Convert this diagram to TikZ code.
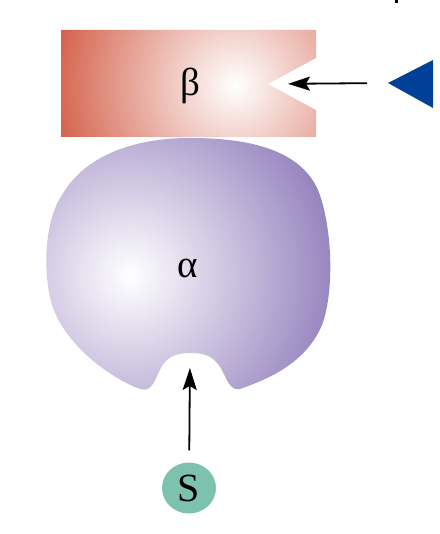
\documentclass[tikz,border=0pt]{standalone}
\usepackage{fontspec}
\setmainfont{Liberation Serif}
\usetikzlibrary{arrows.meta,shapes.geometric}
\definecolor{betared}{RGB}{212,96,74}
\definecolor{alphapurple}{RGB}{146,126,188}
\definecolor{signalblue}{RGB}{0,64,152}
\definecolor{substrategreen}{RGB}{125,194,172}
\tikzset{
  label text/.style={font=\fontsize{39}{39}\selectfont},
  arrow/.style={-{Stealth[length=22pt,width=14pt,inset=4pt]}, line width=1.8pt},
}
\begin{document}
\begin{tikzpicture}[x=1pt,y=-1pt]
    \useasboundingbox (0,0) rectangle (439,534);
    \begin{scope}
        \clip (61,30) -- (316,30) -- (316,58) -- (268,84) -- (316,110) -- (316,137) -- (61,137) -- cycle;
        \shade[inner color=white, outer color=betared] (235,85) circle (185pt);
    \end{scope}
    \begin{scope}
        \clip (190,138) .. controls (250,138) and (300,150) .. (318,190)
            .. controls (332,225) and (335,290) .. (322,325)
            .. controls (305,365) and (265,380) .. (240,389)
            .. controls (228,392) and (225,372) .. (218,364)
            .. controls (210,354) and (200,353) .. (190,353)
            .. controls (178,353) and (168,356) .. (162,366)
            .. controls (155,378) and (153,393) .. (140,389)
            .. controls (110,378) and (65,345) .. (52,305)
            .. controls (42,270) and (45,220) .. (62,195)
            .. controls (85,155) and (135,138) .. (190,138) -- cycle;
        \shade[inner color=white, outer color=alphapurple] (130,275) circle (215pt);
    \end{scope}
    \coordinate (betanotch) at (268,84);
    \coordinate (alphanotch) at (190,354);
    \coordinate (signal) at (388,83);
    \node[label text] (beta) at (190,86) {β};
    \node[label text] (alpha) at (188,268) {α};
    \fill[signalblue] (signal) -- (433,60) -- (433,108) -- cycle;
    \node[ellipse, fill=substrategreen, minimum width=54pt, minimum height=51pt, inner sep=0pt, font=\fontsize{40}{40}\selectfont] (S) at (189,488) {S};
    \draw[arrow, shorten <=21pt, shorten >=20pt] (signal) -- (betanotch);
    \draw[arrow, shorten <=12pt, shorten >=14pt] (S) -- (alphanotch);
    \fill (395,0) rectangle (398,3);
\end{tikzpicture}
\end{document}
